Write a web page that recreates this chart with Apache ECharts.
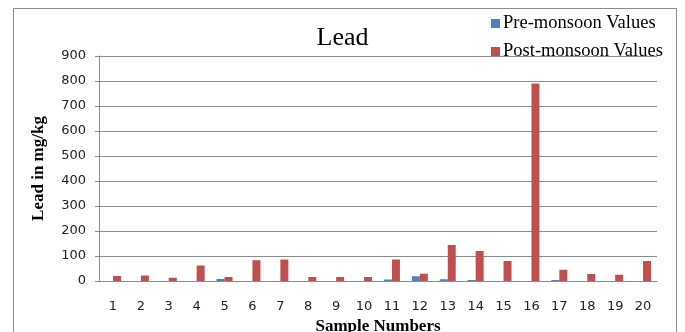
<!DOCTYPE html>
<html>
<head>
<meta charset="utf-8">
<script src="https://cdn.jsdelivr.net/npm/echarts@6/dist/echarts.min.js"></script>
<style>html,body{margin:0;padding:0;background:#fff}#c{width:685px;height:332px}</style>
</head>
<body>
<div id="c"></div>
<script>
const categories = ['1','2','3','4','5','6','7','8','9','10','11','12','13','14','15','16','17','18','19','20'];
const preMonsoon = [0,0,0,0,8,0,0,0,0,0,6,19,7,4,0,0,4,0,0,0];
const postMonsoon = [20,22,13,62,16,83,86,16,16,16,86,29,144,120,80,790,45,28,25,80];
const yTicks = {min:0, max:900, interval:100};

const chart = echarts.init(document.getElementById('c'), null, {renderer:'canvas'});
chart.setOption({
  animation:false,
  backgroundColor:'#fff',
  graphic:[{type:'rect', shape:{x:13.5,y:8.5,width:663,height:340}, style:{fill:'none',stroke:'#8c8c8c',lineWidth:1}, z:-1}],
  title:{text:'Lead', left:'center', top:20, textStyle:{fontFamily:'Liberation Serif', fontSize:26, fontWeight:'normal', color:'#000'}},
  legend:{orient:'vertical', left:486, top:9, itemWidth:9, itemHeight:9, itemGap:9,
    textStyle:{fontFamily:'Liberation Serif', fontSize:18.5, color:'#000', padding:[0,0,0,-2]},
    data:[{name:'Pre-monsoon Values', icon:'rect'},{name:'Post-monsoon Values', icon:'rect'}]},
  grid:{left:99, right:28, top:56, bottom:51, containLabel:false, outerBoundsMode:'none'},
  xAxis:{type:'category', data:categories,
    name:'Sample Numbers', nameLocation:'middle', nameGap:37,
    nameTextStyle:{fontFamily:'Liberation Serif', fontSize:17, fontWeight:'bold', color:'#000'},
    axisLine:{lineStyle:{color:'#8c8c8c'}}, axisTick:{show:false},
    axisLabel:{fontFamily:'DejaVu Sans', fontSize:13, color:'#222', margin:19, interval:0}},
  yAxis:{type:'value', min:yTicks.min, max:yTicks.max, interval:yTicks.interval,
    name:'Lead in mg/kg', nameLocation:'middle', nameGap:52,
    nameTextStyle:{fontFamily:'Liberation Serif', fontSize:17, fontWeight:'bold', color:'#000'},
    axisLine:{show:true, lineStyle:{color:'#8c8c8c'}}, axisTick:{show:true, length:4, lineStyle:{color:'#8c8c8c'}},
    axisLabel:{fontFamily:'DejaVu Sans', fontSize:13, color:'#222', margin:13},
    splitLine:{lineStyle:{color:'#8c8c8c'}}},
  series:[
    {name:'Pre-monsoon Values', type:'bar', data:preMonsoon, barWidth:8, barGap:'0%', itemStyle:{color:'#4F81BD'}},
    {name:'Post-monsoon Values', type:'bar', data:postMonsoon, barWidth:8, barGap:'0%', itemStyle:{color:'#C0504D'}}
  ]
});
</script>
</body>
</html>
